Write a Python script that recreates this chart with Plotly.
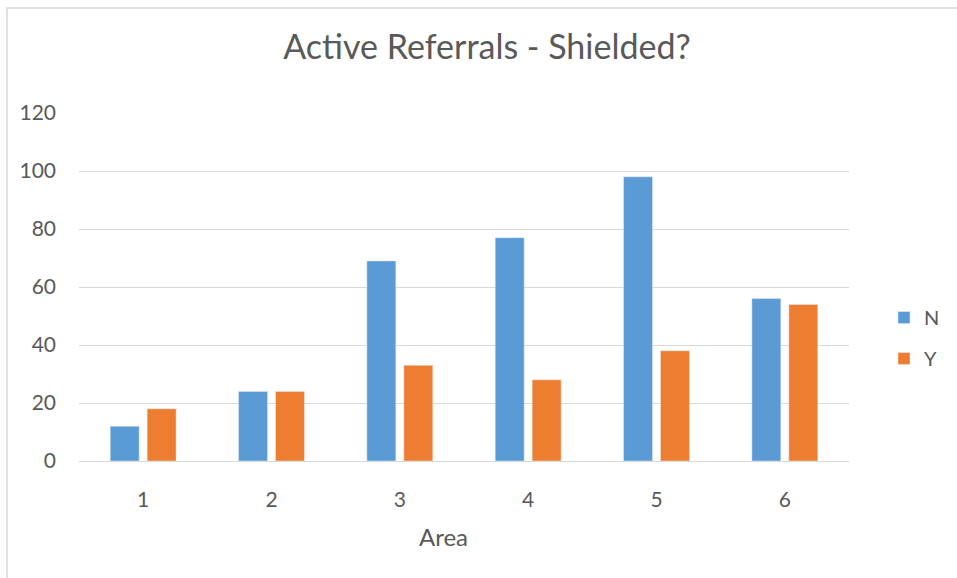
import plotly.graph_objects as go

areas = ["1", "2", "3", "4", "5", "6"]
n_values = [12, 24, 69, 77, 98, 56]
y_values = [18, 24, 33, 28, 38, 54]
y_ticks = [0, 20, 40, 60, 80, 100, 120]

W, H = 957, 578
L, R, T, B = 79, 108, 113, 117
pw, ph = W - L - R, H - T - B

def px_x(x):
    return (x - L) / pw

def px_y(y):
    return (H - B - y) / ph

font_fam = "Lato, 'Open Sans', sans-serif"
txt_col = "#595959"

fig = go.Figure()
fig.add_trace(go.Bar(x=areas, y=n_values, name="N", marker_color="#5B9BD5",
                     legendgroup="N"))
fig.add_trace(go.Bar(x=areas, y=y_values, name="Y", marker_color="#ED7D31",
                     legendgroup="Y"))

fig.update_layout(
    width=W, height=H,
    margin=dict(l=L, r=R, t=T, b=B, autoexpand=False),
    paper_bgcolor="white", plot_bgcolor="white",
    barmode="group", bargap=0.424, bargroupgap=0.216,
    title=dict(text="Active Referrals - Shielded?", x=px_x(487), xref="paper",
               xanchor="center", y=1 - 47 / H, yref="container", yanchor="middle",
               font=dict(family=font_fam, size=34, color=txt_col)),
    font=dict(family=font_fam, color=txt_col, size=21),
    legend=dict(x=px_x(884), xanchor="left", y=px_y(338), yanchor="middle",
                font=dict(size=20, color=txt_col), traceorder="grouped",
                tracegroupgap=12, itemwidth=30, bgcolor="rgba(0,0,0,0)"),
    xaxis=dict(showline=True, linecolor="#d9d9d9", linewidth=1,
               ticks="", tickfont=dict(size=21, color=txt_col), showgrid=False,
               ticklabelstandoff=20),
    yaxis=dict(range=[0, 120], tickvals=y_ticks, showgrid=True,
               gridcolor="#d9d9d9", gridwidth=1, zeroline=False, ticks="",
               tickfont=dict(size=21, color=txt_col), ticklabelstandoff=22),
    annotations=[dict(text="Area", xref="paper", yref="paper",
                      x=px_x(443), y=px_y(536), xanchor="center", yanchor="middle",
                      showarrow=False, font=dict(size=24, color=txt_col))],
    shapes=[dict(type="rect", xref="paper", yref="paper",
                 x0=px_x(7), x1=px_x(1100), y0=px_y(700), y1=px_y(8),
                 line=dict(color="#d9d9d9", width=1.5), fillcolor="rgba(0,0,0,0)",
                 layer="below")],
)

fig.write_html("out.html", config={"displayModeBar": False},
               post_script="document.body.style.margin='0';document.body.style.overflow='hidden';")
